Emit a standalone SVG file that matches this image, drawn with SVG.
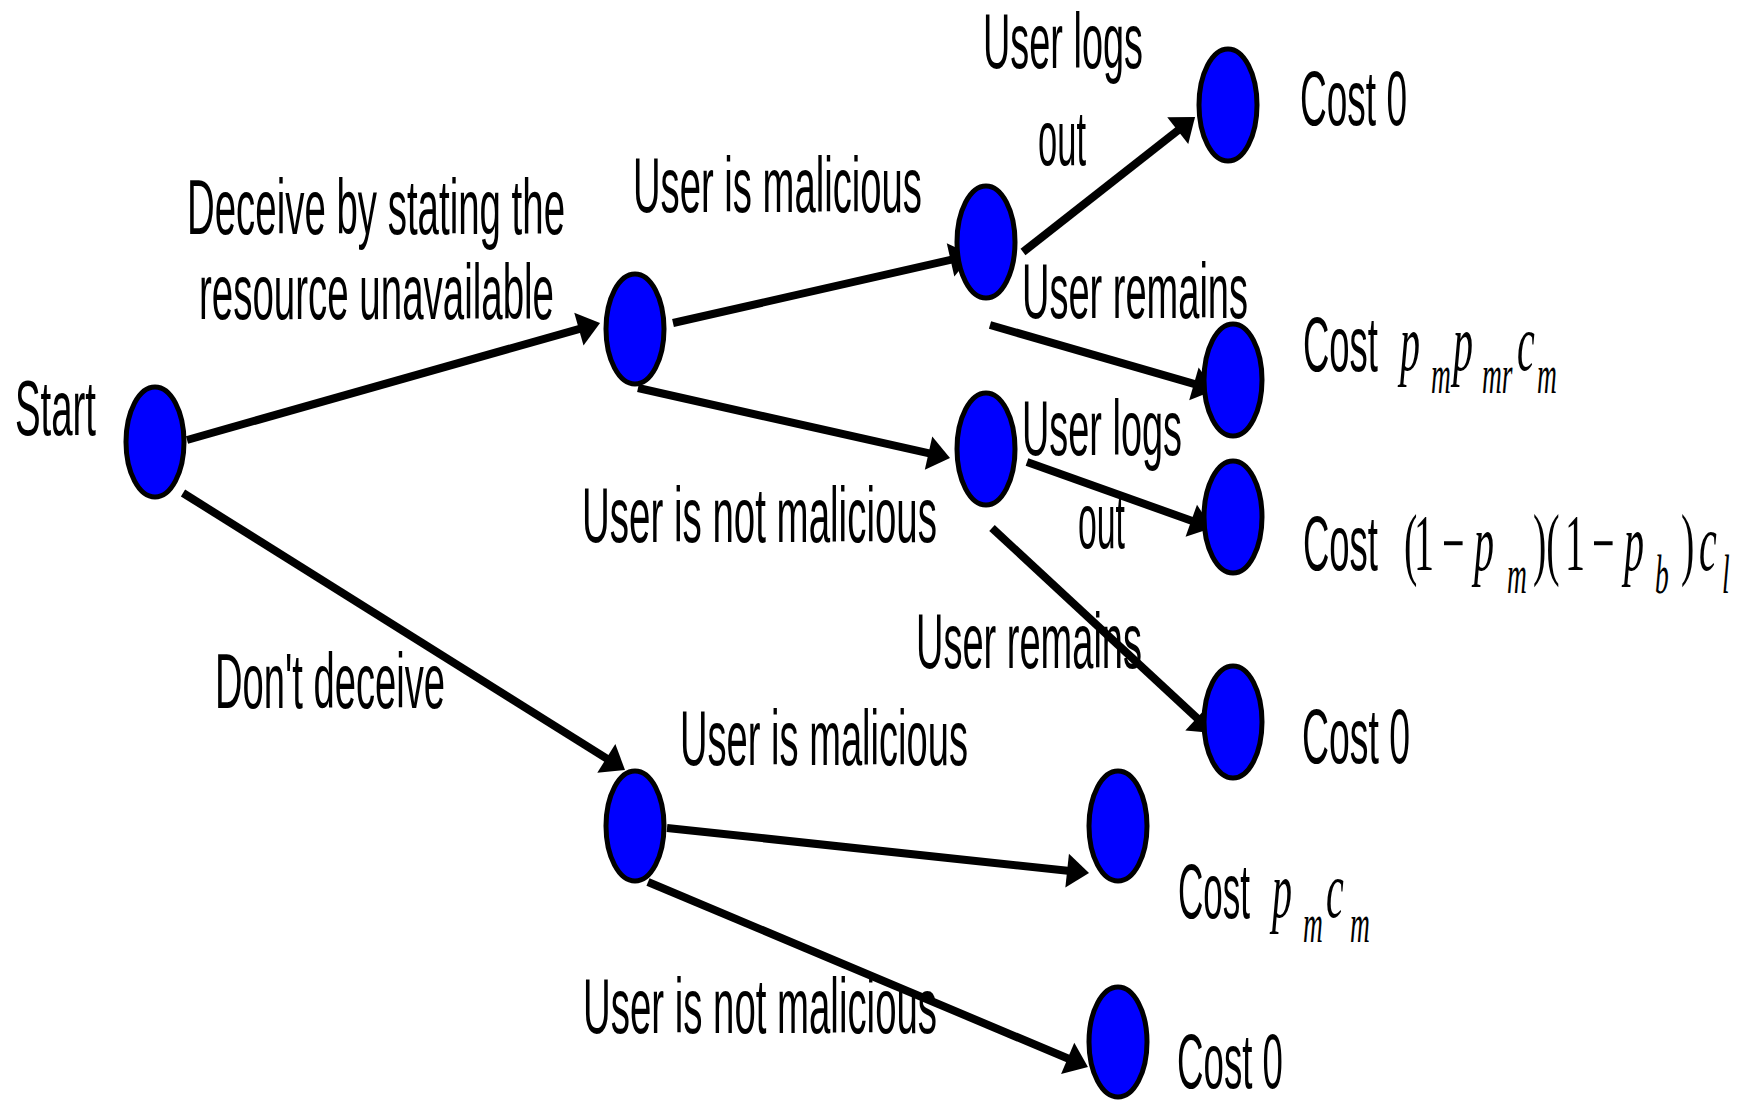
<svg xmlns="http://www.w3.org/2000/svg" width="1747" height="1100" viewBox="0 0 1747 1100">
<style>
.node{fill:#0000FF;stroke:#000;stroke-width:5}
.lbl{font-family:"Liberation Sans",Arial,sans-serif;font-size:78px;fill:#000}
.math{font-family:"Liberation Serif","Times New Roman",serif;font-size:80px;fill:#000}
.i{font-style:italic}
.s{font-style:italic;font-size:55px}
.edge{stroke:#000;stroke-width:8;fill:none;marker-end:url(#ah)}
</style>
<defs>
<marker id="ah" markerUnits="userSpaceOnUse" markerWidth="30" markerHeight="40" refX="10" refY="17" orient="auto" overflow="visible">
<path d="M0,0 L22,17 L0,34 Z" fill="#000"/>
</marker>
</defs>
<rect width="1747" height="1100" fill="#fff"/>

<g id="connectors">
<line class="edge" x1="187" y1="440" x2="588.5" y2="326.3"/>
<line class="edge" x1="183" y1="493" x2="614.8" y2="763.6"/>
<line class="edge" x1="673" y1="323" x2="960.3" y2="257.7"/>
<line class="edge" x1="638" y1="388" x2="938.3" y2="455.4"/>
<line class="edge" x1="1023" y1="252" x2="1185.6" y2="124.4"/>
<line class="edge" x1="990" y1="325" x2="1203.5" y2="386.7"/>
<line class="edge" x1="1027" y1="462" x2="1200.7" y2="524"/>
<line class="edge" x1="992" y1="528" x2="1204.2" y2="724.8"/>
<line class="edge" x1="667" y1="828" x2="1077.1" y2="871.7"/>
<line class="edge" x1="648" y1="882" x2="1076.9" y2="1062.3"/>
</g>

<g id="edge-labels">
<text class="lbl" x="187" y="234" textLength="378" lengthAdjust="spacingAndGlyphs">Deceive by stating the</text>
<text class="lbl" x="199" y="319" textLength="355" lengthAdjust="spacingAndGlyphs">resource unavailable</text>
<text class="lbl" x="215" y="708" textLength="230" lengthAdjust="spacingAndGlyphs">Don't deceive</text>
<text class="lbl" x="633" y="212" textLength="289" lengthAdjust="spacingAndGlyphs">User is malicious</text>
<text class="lbl" x="582" y="542" textLength="355" lengthAdjust="spacingAndGlyphs">User is not malicious</text>
<text class="lbl" x="680" y="765" textLength="288" lengthAdjust="spacingAndGlyphs">User is malicious</text>
<text class="lbl" x="583" y="1033" textLength="354" lengthAdjust="spacingAndGlyphs">User is not malicious</text>
<text class="lbl" x="983" y="68" textLength="160" lengthAdjust="spacingAndGlyphs">User logs</text>
<text class="lbl" x="1038" y="165" textLength="48" lengthAdjust="spacingAndGlyphs">out</text>
<text class="lbl" x="1022" y="318" textLength="226" lengthAdjust="spacingAndGlyphs">User remains</text>
<text class="lbl" x="1022" y="455" textLength="160" lengthAdjust="spacingAndGlyphs">User logs</text>
<text class="lbl" x="1078" y="548" textLength="47" lengthAdjust="spacingAndGlyphs">out</text>
<text class="lbl" x="916" y="668" textLength="226" lengthAdjust="spacingAndGlyphs">User remains</text>
</g>

<g id="node-start">
<ellipse class="node" cx="155" cy="442" rx="29" ry="55"/>
<text class="lbl" x="15" y="435" textLength="81" lengthAdjust="spacingAndGlyphs">Start</text>
</g>
<g id="node-deceive">
<ellipse class="node" cx="635" cy="329" rx="29" ry="55"/>
</g>
<g id="node-deceive-malicious">
<ellipse class="node" cx="986" cy="242" rx="29" ry="56"/>
</g>
<g id="node-deceive-not-malicious">
<ellipse class="node" cx="986" cy="449" rx="29" ry="56"/>
</g>
<g id="node-nodeceive">
<ellipse class="node" cx="635" cy="826" rx="29" ry="55"/>
</g>

<g id="leaf-1">
<ellipse class="node" cx="1228" cy="105" rx="29" ry="56"/>
<text class="lbl" x="1300" y="125" textLength="107" lengthAdjust="spacingAndGlyphs">Cost 0</text>
</g>
<g id="leaf-2">
<ellipse class="node" cx="1233" cy="380" rx="29" ry="56"/>
<text class="lbl" x="1303" y="371" textLength="75" lengthAdjust="spacingAndGlyphs">Cost</text>
<text class="math" transform="translate(1400,0) scale(0.5,1)"><tspan class="i" x="0" y="370">p</tspan><tspan class="s" x="62" y="393">m</tspan><tspan class="i" x="106" y="370">p</tspan><tspan class="s" x="164" y="393">mr</tspan><tspan class="i" x="234" y="370">c</tspan><tspan class="s" x="274" y="393">m</tspan></text>
</g>
<g id="leaf-3">
<ellipse class="node" cx="1233" cy="517" rx="29" ry="56"/>
<text class="lbl" x="1303" y="570" textLength="75" lengthAdjust="spacingAndGlyphs">Cost</text>
<text class="math" transform="translate(1404,0) scale(0.5,1)"><tspan x="0" y="570">(</tspan><tspan x="20" y="570">1</tspan><tspan x="76" y="570">−</tspan><tspan class="i" x="140" y="570">p</tspan><tspan class="s" x="206" y="593">m</tspan><tspan x="258" y="570">)(</tspan><tspan x="322" y="570">1</tspan><tspan x="376" y="570">−</tspan><tspan class="i" x="440" y="570">p</tspan><tspan class="s" x="502" y="593">b</tspan><tspan x="554" y="570">)</tspan><tspan class="i" x="590" y="570">c</tspan><tspan class="s" x="636" y="593">l</tspan></text>
</g>
<g id="leaf-4">
<ellipse class="node" cx="1233" cy="722" rx="29" ry="56"/>
<text class="lbl" x="1302" y="763" textLength="108" lengthAdjust="spacingAndGlyphs">Cost 0</text>
</g>
<g id="leaf-5">
<ellipse class="node" cx="1118" cy="826" rx="29" ry="55"/>
<text class="lbl" x="1178" y="918" textLength="72" lengthAdjust="spacingAndGlyphs">Cost</text>
<text class="math" transform="translate(1272,0) scale(0.5,1)"><tspan class="i" x="0" y="917">p</tspan><tspan class="s" x="62" y="942">m</tspan><tspan class="i" x="108" y="917">c</tspan><tspan class="s" x="156" y="942">m</tspan></text>
</g>
<g id="leaf-6">
<ellipse class="node" cx="1118" cy="1042" rx="29" ry="55"/>
<text class="lbl" x="1177" y="1088" textLength="106" lengthAdjust="spacingAndGlyphs">Cost 0</text>
</g>
</svg>
